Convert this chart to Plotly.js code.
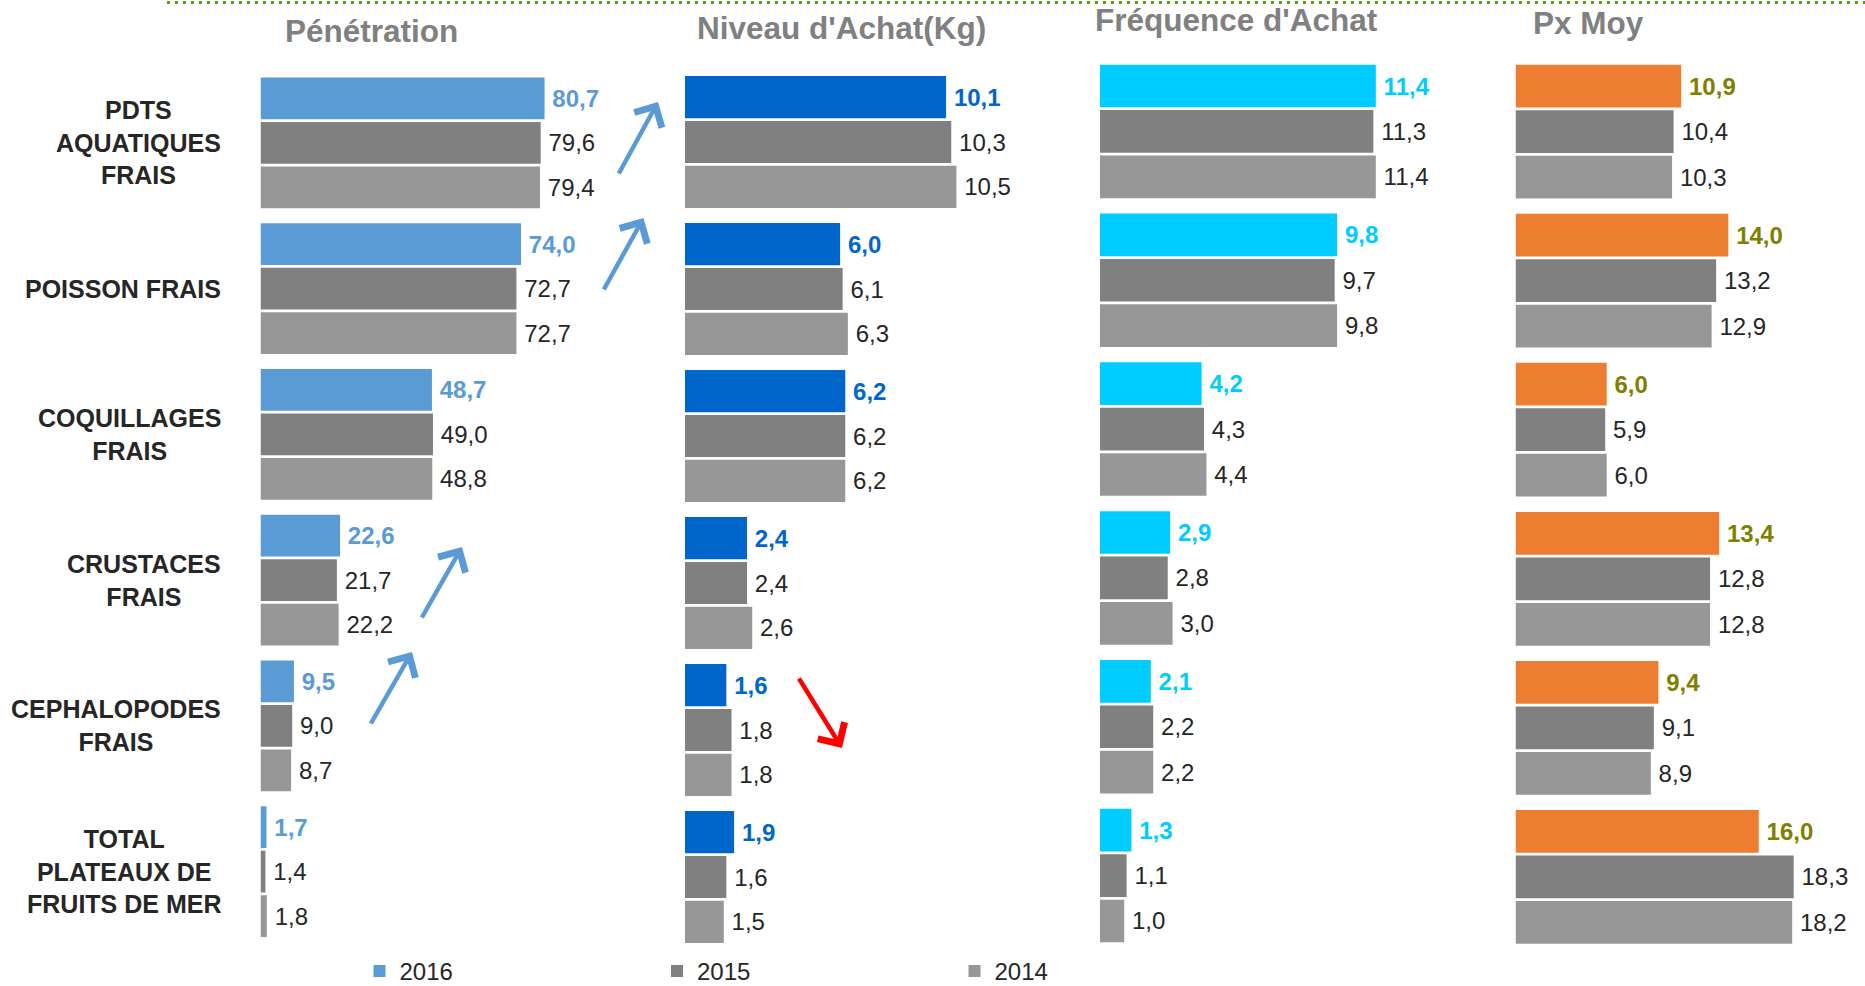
<!DOCTYPE html>
<html><head><meta charset="utf-8">
<script src="https://cdn.plot.ly/plotly-3.0.1.min.js"></script>
<style>html,body{margin:0;padding:0;background:#fff;overflow:hidden}#chart{width:1865px;height:986px}</style>
</head><body><div id="chart"></div>
<script>
// ---------- DATA ----------
const categories = ['PDTS AQUATIQUES FRAIS', 'POISSON FRAIS', 'COQUILLAGES FRAIS', 'CRUSTACES FRAIS', 'CEPHALOPODES FRAIS', 'TOTAL PLATEAUX DE FRUITS DE MER'];
const categoryLabels = ['PDTS<br>AQUATIQUES<br>FRAIS', 'POISSON FRAIS', 'COQUILLAGES<br>FRAIS', 'CRUSTACES<br>FRAIS', 'CEPHALOPODES<br>FRAIS', 'TOTAL<br>PLATEAUX DE<br>FRUITS DE MER'];
const years = ['2016', '2015', '2014'];
const panelTitles = ['Pénétration', "Niveau d'Achat(Kg)", "Fréquence d'Achat", 'Px Moy'];

const penetration2016 = [80.7, 74.0, 48.7, 22.6, 9.5, 1.7];
const penetration2015 = [79.6, 72.7, 49.0, 21.7, 9.0, 1.4];
const penetration2014 = [79.4, 72.7, 48.8, 22.2, 8.7, 1.8];

const niveau2016 = [10.1, 6.0, 6.2, 2.4, 1.6, 1.9];
const niveau2015 = [10.3, 6.1, 6.2, 2.4, 1.8, 1.6];
const niveau2014 = [10.5, 6.3, 6.2, 2.6, 1.8, 1.5];

const frequence2016 = [11.4, 9.8, 4.2, 2.9, 2.1, 1.3];
const frequence2015 = [11.3, 9.7, 4.3, 2.8, 2.2, 1.1];
const frequence2014 = [11.4, 9.8, 4.4, 3.0, 2.2, 1.0];

const pxMoy2016 = [10.9, 14.0, 6.0, 13.4, 9.4, 16.0];
const pxMoy2015 = [10.4, 13.2, 5.9, 12.8, 9.1, 18.3];
const pxMoy2014 = [10.3, 12.9, 6.0, 12.8, 8.9, 18.2];

// ---------- STYLE / LAYOUT ----------
const W = 1865, H = 986;
const fx = x => x / W;
const fy = y => 1 - y / H;
const FONT = '"Liberation Sans", Arial, sans-serif';

const panels = [
  {values: [penetration2016, penetration2015, penetration2014], color2016: '#5B9BD5', label2016: '#5B9BD5',
   xd: [260.5, 600], xmax: 96.45, yd: [70, 944.5], title: [371, 31]},
  {values: [niveau2016, niveau2015, niveau2014], color2016: '#0066CC', label2016: '#0066CC',
   xd: [685, 1050], xmax: 14.12, yd: [68.5, 950.5], title: [841, 28.5]},
  {values: [frequence2016, frequence2015, frequence2014], color2016: '#00CCFF', label2016: '#00CCFF',
   xd: [1100, 1460], xmax: 14.88, yd: [57, 950], title: [1236, 20]},
  {values: [pxMoy2016, pxMoy2015, pxMoy2014], color2016: '#ED7D31', label2016: '#808000',
   xd: [1515.5, 1865], xmax: 22.99, yd: [57, 951.5], title: [1588, 22.6]}
];
const greyColors = ['#808080', '#979797'];

const traces = [];
const layout = {
  width: W, height: H,
  margin: {l: 0, r: 0, t: 0, b: 0, autoexpand: false},
  paper_bgcolor: '#ffffff', plot_bgcolor: 'rgba(0,0,0,0)',
  barmode: 'group', bargap: 0.085, bargroupgap: 0.06,
  separators: ', ',
  font: {family: FONT, color: '#262626'},
  showlegend: true,
  legend: {orientation: 'h', x: fx(359.5), xanchor: 'left', y: fy(971.5), yanchor: 'middle',
           entrywidth: 252.5, entrywidthmode: 'pixels', font: {size: 24, color: '#262626', family: FONT},
           bgcolor: 'rgba(0,0,0,0)', itemclick: false, itemdoubleclick: false},
  annotations: [],
  shapes: [
    {type: 'line', xref: 'paper', yref: 'paper', x0: fx(167), x1: 1, y0: fy(2.5), y1: fy(2.5),
     line: {color: '#5A9E12', width: 3, dash: '3px,5px'}}
  ]
};

panels.forEach((p, i) => {
  const n = i === 0 ? '' : String(i + 1);
  const xa = 'x' + n, ya = 'y' + n;
  layout['xaxis' + n] = {domain: [fx(p.xd[0]), fx(p.xd[1])], range: [0, p.xmax], visible: false,
                         anchor: ya, fixedrange: true};
  layout['yaxis' + n] = {domain: [fy(p.yd[1]), fy(p.yd[0])], type: 'category', categoryorder: 'array',
                         categoryarray: categories, autorange: 'reversed', visible: false,
                         anchor: xa, fixedrange: true};
  p.values.forEach((vals, k) => {
    const is2016 = k === 0;
    traces.push({
      type: 'bar', orientation: 'h', name: years[k],
      x: vals, y: categories, xaxis: xa, yaxis: ya,
      marker: {color: is2016 ? p.color2016 : greyColors[k - 1], line: {width: 0}},
      texttemplate: '\u2009%{x:.1f}', textposition: 'outside', cliponaxis: false, constraintext: 'none',
      textfont: {family: FONT, size: 24, color: is2016 ? p.label2016 : '#262626', weight: is2016 ? 'bold' : 'normal'},
      showlegend: i === 0, legendgroup: years[k], hoverinfo: 'x+y'
    });
  });
  layout.annotations.push({
    text: panelTitles[i], xref: 'paper', yref: 'paper', x: fx(p.title[0]), y: fy(p.title[1]),
    xanchor: 'center', yanchor: 'middle', showarrow: false,
    font: {family: FONT, size: 31.5, color: '#808080', weight: 'bold'}
  });
});

// category labels (left side, aligned to panel 1 category positions)
categoryLabels.forEach((lab, j) => {
  layout.annotations.push({
    text: lab, xref: 'paper', yref: 'y', x: fx(223), y: categories[j],
    xanchor: 'right', yanchor: 'middle', align: 'center', showarrow: false,
    font: {family: FONT, size: 25, color: '#262626', weight: 'bold'}
  });
});

// trend arrows
const arrows = [
  {head: [658, 102], tail: [618, 175], color: '#5B9BD5'},
  {head: [643.5, 218], tail: [603, 291], color: '#5B9BD5'},
  {head: [462, 547], tail: [421, 619], color: '#5B9BD5'},
  {head: [412, 652], tail: [370, 725], color: '#5B9BD5'},
  {head: [842, 748], tail: [798, 677], color: '#FF0000'}
];
arrows.forEach(a => {
  layout.annotations.push({
    text: '', xref: 'paper', yref: 'paper', x: fx(a.head[0]), y: fy(a.head[1]),
    ax: a.tail[0] - a.head[0], ay: a.tail[1] - a.head[1], axref: 'pixel', ayref: 'pixel',
    showarrow: true, arrowhead: 4, arrowsize: 1.35, arrowwidth: 4.5, arrowcolor: a.color, standoff: 0
  });
});

Plotly.newPlot('chart', traces, layout, {displayModeBar: false, staticPlot: true});
</script></body></html>
